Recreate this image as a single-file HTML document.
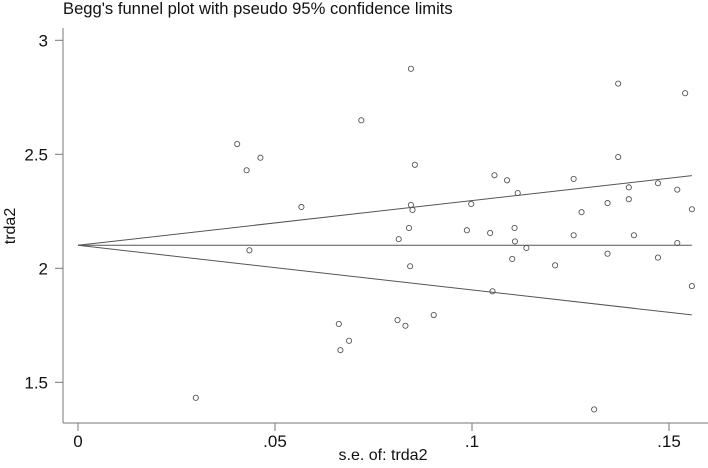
<!DOCTYPE html>
<html><head><meta charset="utf-8"><style>
html,body{margin:0;padding:0;background:#fff;}
svg text{font-family:"Liberation Sans",Arial,sans-serif;fill:#111;}
</style></head><body>
<svg id="chart" width="708" height="463" viewBox="0 0 708 463" xmlns="http://www.w3.org/2000/svg">
<text x="63" y="14" font-size="16.6">Begg's funnel plot with pseudo 95% confidence limits</text>
<g id="axes"></g>
<g id="marks"></g>
<text x="383" y="460" font-size="16" text-anchor="middle">s.e. of: trda2</text>
<text transform="translate(15,226) rotate(-90)" font-size="16" text-anchor="middle">trda2</text>
</svg>
<script>
const seValues=[.0404,.0463,.0428,.0567,.0435,.0662,.0688,.0666,.0299,.0719,.0845,.0855,.0845,.0849,.0840,.0814,.0843,.0811,.0831,.0903,.0987,.0998,.1046,.1057,.1089,.1116,.1108,.1109,.1138,.1102,.1052,.1211,.1258,.1278,.1258,.1344,.1344,.1310,.1371,.1371,.1398,.1398,.1411,.1472,.1472,.1521,.1521,.1541,.1558,.1558];
const effectValues=[2.545,2.485,2.430,2.269,2.079,1.756,1.682,1.641,1.432,2.649,2.875,2.454,2.278,2.256,2.177,2.128,2.009,1.773,1.748,1.795,2.167,2.282,2.155,2.408,2.386,2.330,2.177,2.118,2.089,2.041,1.899,2.013,2.392,2.246,2.145,2.286,2.064,1.381,2.810,2.488,2.355,2.303,2.145,2.373,2.047,2.345,2.111,2.768,2.259,1.922];
const xTicks=[0,.05,.1,.15];
const xTickLabels=["0",".05",".1",".15"];
const yTicks=[1.5,2,2.5,3];
const yTickLabels=["1.5","2","2.5","3"];
const pooledEffect=2.101;
const maxSe=.1558;

const NS="http://www.w3.org/2000/svg";
const xs=v=>78+v*3940;
const ys=v=>40.3+(3-v)*228;
function mk(tag,attrs,parent){const e=document.createElementNS(NS,tag);for(const k in attrs)e.setAttribute(k,attrs[k]);parent.appendChild(e);return e;}
const axes=document.getElementById('axes'),marks=document.getElementById('marks');
let e=mk('line',{x1:63,y1:28,x2:63,y2:423,stroke:'#777','stroke-width':1},axes);


e=mk('line',{x1:63,y1:423,x2:708,y2:423,stroke:'#777','stroke-width':1},axes);


yTicks.forEach((t,i)=>{
  const y=ys(t);
  let l=mk('line',{x1:55,y1:y,x2:63,y2:y,stroke:'#777'},axes);
  
  
  let tx=mk('text',{x:48,y:y+6,'font-size':17,'text-anchor':'end'},axes);
  tx.textContent=yTickLabels[i];
  
  
});
xTicks.forEach((t,i)=>{
  const x=xs(t);
  let l=mk('line',{x1:x,y1:423,x2:x,y2:431,stroke:'#777'},axes);
  
  
  let tx=mk('text',{x:x,y:447,'font-size':17,'text-anchor':'middle'},axes);
  tx.textContent=xTickLabels[i];
  
  
});
const st={stroke:'#555','stroke-width':1,fill:'none'};
let p=mk('line',Object.assign({x1:xs(0),y1:ys(pooledEffect),x2:xs(maxSe),y2:ys(pooledEffect)},st),marks);


p=mk('line',Object.assign({x1:xs(0),y1:ys(pooledEffect),x2:xs(maxSe),y2:ys(pooledEffect+1.96*maxSe)},st),marks);


p=mk('line',Object.assign({x1:xs(0),y1:ys(pooledEffect),x2:xs(maxSe),y2:ys(pooledEffect-1.96*maxSe)},st),marks);


seValues.forEach((s,i)=>{
  const c=mk('circle',{cx:xs(s),cy:ys(effectValues[i]),r:2.6,stroke:'#555','stroke-width':0.9,fill:'none'},marks);
  
  
});
</script>
</body></html>
